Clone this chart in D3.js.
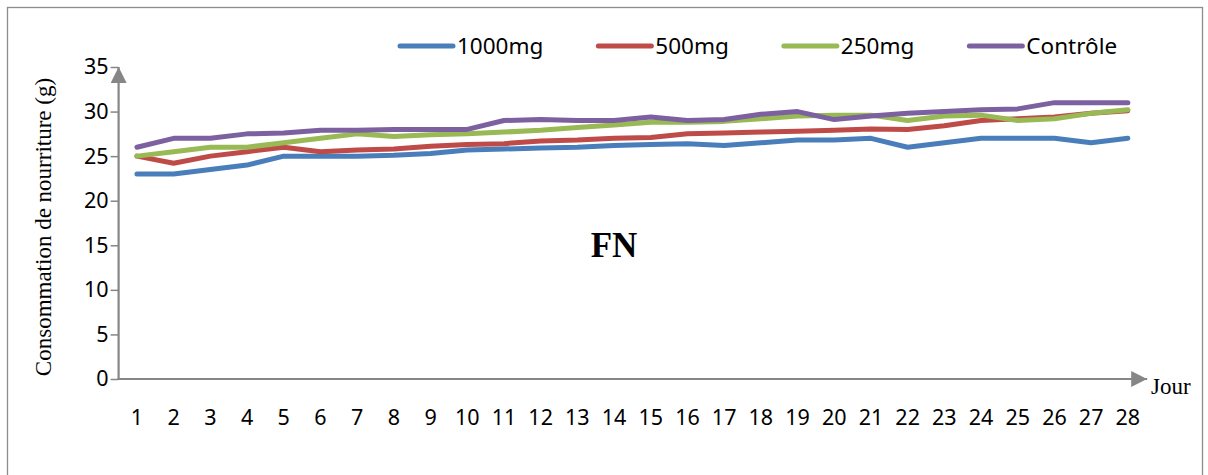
<!DOCTYPE html>
<html>
<head>
<meta charset="utf-8">
<script src="https://cdn.jsdelivr.net/npm/d3@7"></script>
<style>
  html, body { margin: 0; padding: 0; background: #fff; }
  svg { display: block; }
</style>
</head>
<body>
<svg id="chart" width="1208" height="475"></svg>
<script>
// ---- data ----
const days = ["1","2","3","4","5","6","7","8","9","10","11","12","13","14","15","16","17","18","19","20","21","22","23","24","25","26","27","28"];
const seriesNames = ["1000mg", "500mg", "250mg", "Contrôle"];
const values1000 = [23, 23, 23.5, 24, 25, 25, 25, 25.1, 25.3, 25.7, 25.8, 25.9, 26, 26.2, 26.3, 26.4, 26.2, 26.5, 26.8, 26.8, 27, 26, 26.5, 27, 27, 27, 26.5, 27];
const values500 = [25, 24.2, 25, 25.5, 26, 25.5, 25.7, 25.8, 26.1, 26.3, 26.4, 26.7, 26.8, 27, 27.1, 27.5, 27.6, 27.7, 27.8, 27.9, 28.05, 28, 28.4, 29, 29.2, 29.4, 29.8, 30.1];
const values250 = [25, 25.5, 26, 26, 26.5, 27, 27.5, 27.2, 27.4, 27.5, 27.7, 27.9, 28.2, 28.5, 28.8, 28.8, 28.9, 29.2, 29.5, 29.6, 29.6, 29, 29.5, 29.6, 29, 29.2, 29.8, 30.2];
const valuesControle = [26, 27, 27, 27.5, 27.6, 27.9, 27.9, 28, 28, 28, 29, 29.1, 29, 29, 29.4, 29, 29.1, 29.7, 30, 29.1, 29.5, 29.8, 30, 30.2, 30.3, 31, 31, 31];
const yTicks = [0, 5, 10, 15, 20, 25, 30, 35];
const colors = ["#4A7EBB", "#BE4B48", "#98B954", "#7D60A0"];
const allSeries = [values1000, values500, values250, valuesControle];

// ---- layout ----
const svg = d3.select("#chart");
const plotLeft = 118.6, plotRight = 1146.2, plotTop = 67, plotBottom = 379;
const sansFont = "'Noto Sans', 'Open Sans', sans-serif";
const serifFont = "'Liberation Serif', 'DejaVu Serif', serif";
const axisColor = "#868686";

// frame
svg.append("rect").attr("x", 7.5).attr("y", 7.5).attr("width", 1195).attr("height", 480)
  .attr("fill", "none").attr("stroke", "#8c8c8c").attr("stroke-width", 1.3);

const x = d3.scaleBand().domain(days).range([plotLeft, plotRight]).paddingInner(0).paddingOuter(0);
const y = d3.scaleLinear().domain([0, 35]).range([plotBottom, plotTop]);
const cx = d => x(d) + x.bandwidth() / 2;

// arrow markers
const defs = svg.append("defs");
defs.append("marker").attr("id", "arrow").attr("viewBox", "0 0 10 10")
  .attr("refX", 10).attr("refY", 5).attr("markerUnits", "userSpaceOnUse")
  .attr("markerWidth", 16).attr("markerHeight", 16).attr("orient", "auto")
  .append("path").attr("d", "M0,0 L10,5 L0,10 Z").attr("fill", axisColor);

// y axis
const yAxis = d3.axisLeft(y).tickValues(yTicks).tickSize(8).tickPadding(2).tickFormat(d3.format("d"));
const gy = svg.append("g").attr("transform", `translate(${plotLeft},0)`).call(yAxis);
gy.select(".domain").remove();
gy.selectAll(".tick line").attr("stroke", axisColor).attr("stroke-width", 1.5);
gy.selectAll(".tick text").attr("font-family", sansFont).attr("font-size", 21.5).attr("fill", "#000");
svg.append("line").attr("x1", plotLeft).attr("x2", plotLeft).attr("y1", plotBottom + 1).attr("y2", plotTop)
  .attr("stroke", axisColor).attr("stroke-width", 2.2).attr("marker-end", "url(#arrow)");

// x axis
const xAxis = d3.axisBottom(x).tickSize(0).tickPadding(31);
const gx = svg.append("g").attr("transform", `translate(0,${plotBottom})`).call(xAxis);
gx.select(".domain").remove();
gx.selectAll(".tick text").attr("font-family", sansFont).attr("font-size", 21.5).attr("fill", "#000");
svg.append("line").attr("x1", plotLeft - 1).attr("x2", plotRight + 1).attr("y1", plotBottom).attr("y2", plotBottom)
  .attr("stroke", axisColor).attr("stroke-width", 2.2).attr("marker-end", "url(#arrow)");

// lines
const line = d3.line().x((d, i) => cx(days[i])).y(d => y(d));
allSeries.forEach((vals, k) => {
  svg.append("path").datum(vals).attr("d", line)
    .attr("fill", "none").attr("stroke", colors[k]).attr("stroke-width", 5)
    .attr("stroke-linejoin", "round").attr("stroke-linecap", "round");
});

// axis titles
svg.append("text").attr("transform", "translate(51,227) rotate(-90)")
  .attr("text-anchor", "middle").attr("font-family", serifFont).attr("font-size", 23)
  .attr("fill", "#000").text("Consommation de nourriture (g)");
svg.append("text").attr("x", 1151).attr("y", 394)
  .attr("font-family", serifFont).attr("font-size", 23).attr("fill", "#000").text("Jour");

// FN label
svg.append("text").attr("x", 614).attr("y", 257).attr("text-anchor", "middle")
  .attr("font-family", serifFont).attr("font-weight", "bold").attr("font-size", 35)
  .attr("fill", "#000").text("FN");

// legend
let lx = 398;
const ly = 46;
seriesNames.forEach((name, k) => {
  svg.append("line").attr("x1", lx + 2).attr("x2", lx + 55).attr("y1", ly).attr("y2", ly)
    .attr("stroke", colors[k]).attr("stroke-width", 5).attr("stroke-linecap", "round");
  const t = svg.append("text").attr("x", lx + 59).attr("y", ly + 8)
    .attr("font-family", sansFont).attr("font-size", 22.5).attr("fill", "#000").text(name);
  lx += 59 + t.node().getComputedTextLength() + 53;
});
</script>
</body>
</html>
